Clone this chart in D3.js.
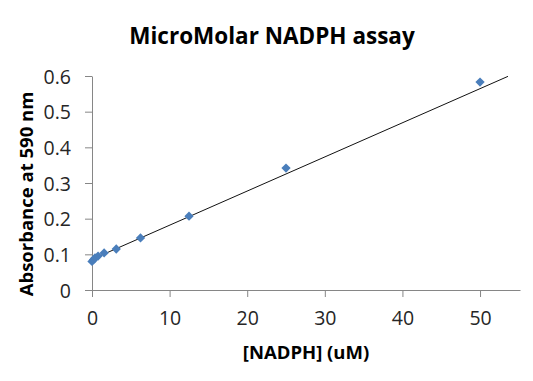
<!DOCTYPE html>
<html>
<head>
<meta charset="utf-8">
<script src="https://cdn.jsdelivr.net/npm/d3@7"></script>
<style>
  body { margin: 0; background: #fff; }
  text { font-family: "Open Sans", "Noto Sans", sans-serif; }
</style>
</head>
<body>
<svg id="chart"></svg>
<script>
// NADPH concentrations (uM) and absorbance
const conc = [0, 0.195, 0.39, 0.78, 1.5625, 3.125, 6.25, 12.5, 25, 50]
const absorbance = [0.080, 0.085, 0.090, 0.095, 0.104, 0.115, 0.146, 0.207, 0.342, 0.583]
const xTicks = [0, 10, 20, 30, 40, 50]
const yTicks = [0, 0.1, 0.2, 0.3, 0.4, 0.5, 0.6]

// linear trendline as shown in the picture
const trendSlope = 0.00957
const trendIntercept = 0.086
const trendRange = [0, 53.6]

const W = 533, H = 381
const margin = { top: 76, right: 13, bottom: 91, left: 92 }
const width = W - margin.left - margin.right
const height = H - margin.top - margin.bottom

const svg = d3.select("#chart").attr("width", W).attr("height", H)
const g = svg.append("g").attr("transform", `translate(${margin.left},${margin.top})`)

const x = d3.scaleLinear().domain([0, 55.15]).range([0, width])
const y = d3.scaleLinear().domain([0, 0.6]).range([height, 0])

// axes
const xAxis = g.append("g")
  .attr("transform", `translate(0,${height})`)
  .call(d3.axisBottom(x).tickValues(xTicks).tickSize(7).tickSizeOuter(0).tickPadding(14))
const yAxis = g.append("g")
  .call(d3.axisLeft(y).tickValues(yTicks).tickFormat(d3.format("")).tickSize(7).tickSizeOuter(0).tickPadding(14))

for (const ax of [xAxis, yAxis]) {
  ax.select(".domain").attr("stroke", "#868686")
  ax.selectAll(".tick line").attr("stroke", "#868686")
  ax.selectAll(".tick text").attr("fill", "#262626").style("font-size", "19.5px")
}
yAxis.selectAll(".tick text").attr("dy", "0.36em")

g.append("line")
  .attr("x1", x(trendRange[0])).attr("y1", y(trendIntercept + trendSlope * trendRange[0]))
  .attr("x2", x(trendRange[1])).attr("y2", y(trendIntercept + trendSlope * trendRange[1]))
  .attr("stroke", "#111").attr("stroke-width", 1)

g.selectAll(".pt")
  .data(conc)
  .enter()
  .append("path")
  .attr("class", "pt")
  .attr("d", d3.symbol(d3.symbolDiamond2, 55))
  .attr("transform", (d, i) => `translate(${x(d)},${y(absorbance[i])})`)
  .attr("fill", "#4a7ebb")

svg.append("text")
  .attr("x", 272).attr("y", 44)
  .attr("text-anchor", "middle")
  .style("font-size", "22.5px").style("font-weight", "bold")
  .text("MicroMolar NADPH assay")

svg.append("text")
  .attr("x", margin.left + width / 2).attr("y", 359)
  .attr("text-anchor", "middle")
  .style("font-size", "18.5px").style("font-weight", "bold")
  .text("[NADPH] (uM)")

svg.append("text")
  .attr("transform", "translate(33,194) rotate(-90)")
  .attr("text-anchor", "middle")
  .style("font-size", "18.5px").style("font-weight", "bold")
  .text("Absorbance at 590 nm")
</script>
</body>
</html>
